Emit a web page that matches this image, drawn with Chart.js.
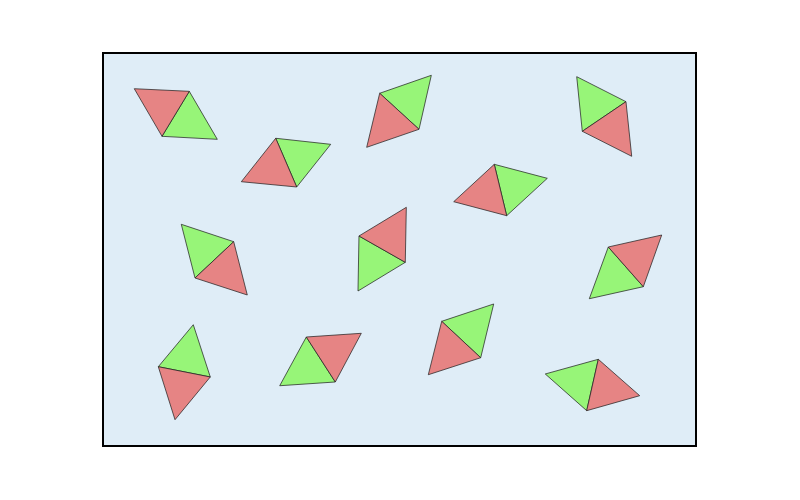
<!DOCTYPE html>
<html>
<head>
<meta charset="utf-8">
<script src="https://cdn.jsdelivr.net/npm/chart.js@4/dist/chart.umd.min.js"></script>
<style>
	body { margin: 0; background: #fff; }
	#wrap { width: 800px; height: 500px; }
</style>
</head>
<body>
<div id="wrap"><canvas id="tri" width="800" height="500"></canvas></div>
<script>
// each rhombus = two triangles sharing the edge edgeA-edgeB
const edgeA = [
	[1.746, 7.220], [3.495, 6.264], [5.599, 7.180], [10.583, 7.009],
	[7.918, 5.734], [2.645, 4.159], [5.180, 4.275], [10.225, 4.051],
	[1.119, 1.614], [4.114, 2.219], [6.854, 2.538], [10.023, 1.765]
];
const edgeB = [
	[1.194, 6.304], [3.920, 5.272], [6.395, 6.447], [9.699, 6.406],
	[8.169, 4.688], [1.862, 3.420], [6.117, 3.739], [10.934, 3.243],
	[2.171, 1.405], [4.701, 1.303], [7.643, 1.797], [9.788, 0.719]
];
const redTip = [
	[0.633, 7.273], [2.799, 5.380], [5.336, 6.080], [10.699, 5.897],
	[7.097, 4.973], [2.920, 3.074], [6.138, 4.859], [11.306, 4.295],
	[1.457, 0.535], [5.227, 2.294], [6.583, 1.451], [10.861, 1.024]
];
const greenTip = [
	[2.313, 6.243], [4.608, 6.141], [6.644, 7.546], [9.586, 7.518],
	[8.991, 5.449], [1.584, 4.513], [5.160, 3.155], [9.841, 2.998],
	[1.827, 2.469], [3.576, 1.227], [7.906, 2.891], [8.950, 1.466]
];
const xRange = [0, 12];
const yRange = [0, 8];

const RED = 'rgb(230,132,132)';
const GREEN = 'rgb(151,245,120)';

function triangle(p, q, r, color)
{
	const pts = [p, q, r, p].map(v => ({ x: v[0], y: v[1] }));
	return {
		data: pts,
		showLine: true,
		fill: 'shape',
		backgroundColor: color,
		borderColor: 'rgba(30,30,30,0.9)',
		borderWidth: 0.8,
		pointRadius: 0,
		tension: 0
	};
}

let datasets = [];
for (let i = 0; i < edgeA.length; i++)
{
	datasets.push(triangle(edgeA[i], edgeB[i], redTip[i], RED));
	datasets.push(triangle(edgeA[i], edgeB[i], greenTip[i], GREEN));
}

// light blue panel + black frame, like the axes box
const panel = {
	id: 'panel',
	beforeDatasetsDraw(chart) {
		const a = chart.chartArea;
		const c = chart.ctx;
		c.save();
		c.fillStyle = 'rgb(223,237,247)';
		c.fillRect(a.left, a.top, a.right - a.left, a.bottom - a.top);
		c.restore();
	},
	afterDraw(chart) {
		const a = chart.chartArea;
		const c = chart.ctx;
		c.save();
		c.strokeStyle = '#000';
		c.lineWidth = 2;
		c.strokeRect(a.left, a.top, a.right - a.left, a.bottom - a.top);
		c.restore();
	}
};

new Chart(document.getElementById('tri').getContext('2d'), {
	type: 'scatter',
	data: { datasets: datasets },
	options: {
		responsive: false,
		devicePixelRatio: 1,
		animation: false,
		layout: { padding: { left: 103, right: 104, top: 53, bottom: 54 } },
		plugins: { legend: { display: false }, tooltip: { enabled: false } },
		scales: {
			x: { type: 'linear', min: xRange[0], max: xRange[1], display: false },
			y: { type: 'linear', min: yRange[0], max: yRange[1], display: false }
		}
	},
	plugins: [panel]
});
</script>
</body>
</html>
